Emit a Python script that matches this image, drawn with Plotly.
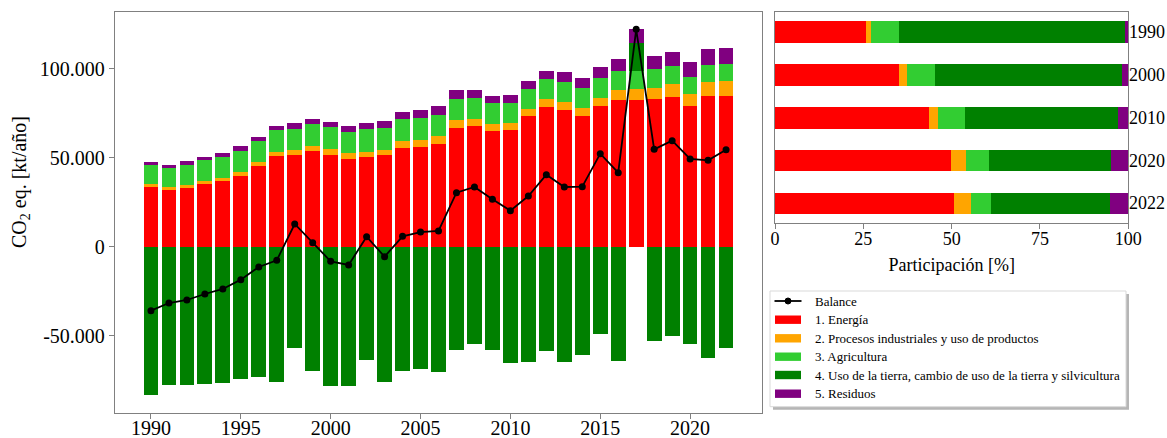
import plotly.graph_objects as go

# Emisiones y absorciones por sector [kt CO2 eq./año]
years = list(range(1990, 2023))
energia = [33560, 32060, 33000, 35250, 36750, 39750, 45375, 51190, 51750, 53810,
           51750, 49500, 50440, 51375, 55690, 56060, 57560, 66560, 67875, 65060,
           65625, 73690, 78375, 76690, 73310, 79125, 82500, 82690, 83250, 84190,
           78940, 84940, 84940]
ippu = [1690, 1500, 1875, 1875, 2060, 2440, 2060, 2060, 2440, 2810,
        3000, 3000, 2810, 3190, 3560, 4130, 4500, 4690, 3940, 3750,
        3750, 3750, 4690, 4875, 4875, 4690, 5625, 5810, 6190, 7125,
        6750, 7500, 8060]
agricultura = [10500, 10880, 11250, 11440, 11810, 11810, 12000, 12190, 12190, 12560,
               12375, 12190, 12750, 12375, 12560, 12190, 12000, 11810, 11810, 11810,
               11440, 11060, 11060, 11060, 10870, 11060, 10500, 10500, 10310, 10310,
               9940, 9750, 9560]
uso_tierra = [-83440, -77625, -78000, -77250, -76500, -74625, -73125, -75940, -56810, -69750,
              -78190, -78375, -63560, -76310, -70125, -68625, -70690, -58125, -54940, -58310,
              -65625, -65060, -58875, -65060, -61125, -49310, -64125, 15750, -53250, -50250,
              -54940, -62625, -57000]
residuos = [1690, 1690, 1875, 2060, 2060, 2440, 2440, 2620, 3000, 2620,
            3000, 3190, 3375, 3560, 3940, 4310, 4875, 5250, 4690, 4125,
            4690, 4875, 4875, 5810, 5625, 6190, 6940, 7500, 7690, 7875,
            8440, 9000, 9000]
balance = [-36000, -31690, -30000, -26625, -23810, -18560, -11440, -7690, 12750, 2200,
           -8250, -10310, 5600, -5625, 5800, 8200, 8810, 30375, 33560, 26625,
           20250, 28500, 40500, 33560, 33750, 52310, 41625, 122250, 54750, 59625,
           49310, 48560, 54560]

# Participación porcentual por sector
part_years = ["1990", "2000", "2010", "2020", "2022"]
pct_energia = [25.7, 35.1, 43.7, 49.8, 50.7]
pct_ippu = [1.4, 2.2, 2.4, 4.4, 4.7]
pct_agricultura = [8.1, 8.1, 7.7, 6.3, 5.7]
pct_uso_tierra = [63.8, 52.7, 43.4, 34.5, 33.7]
pct_residuos = [1.0, 1.9, 2.8, 5.0, 5.2]

y_tickvals = [-50000, 0, 50000, 100000]
y_ticktext = ["-50.000", "0", "50.000", "100.000"]

sector_names = [
    "1. Energía",
    "2. Procesos industriales y uso de productos",
    "3. Agricultura",
    "4. Uso de la tierra, cambio de uso de la tierra y silvicultura",
    "5. Residuos",
]
sector_colors = ["#ff0000", "#ffa500", "#32cd32", "#008000", "#800080"]

W, H = 1167, 438
FONT = "Liberation Serif"


def px_x(x):
    return x / W


def px_y(y):
    return 1 - y / H


fig = go.Figure()

# Barras apiladas por sector (panel izquierdo)
for name, color, vals in zip(sector_names, sector_colors,
                             [energia, ippu, agricultura, uso_tierra, residuos]):
    fig.add_trace(go.Bar(x=years, y=vals, name=name, marker_color=color,
                         marker_line_width=0, width=0.82,
                         xaxis="x", yaxis="y", showlegend=False))

fig.add_trace(go.Scatter(x=years, y=balance, name="Balance", mode="lines+markers",
                         line=dict(color="black", width=1.8),
                         marker=dict(color="black", size=7),
                         xaxis="x", yaxis="y", showlegend=False))

# Participación porcentual (panel derecho)
for name, color, vals in zip(sector_names, sector_colors,
                             [pct_energia, pct_ippu, pct_agricultura, pct_uso_tierra, pct_residuos]):
    fig.add_trace(go.Bar(y=part_years, x=vals, orientation="h", name=name,
                         marker_color=color, marker_line_width=0, width=0.5,
                         xaxis="x2", yaxis="y2", showlegend=False))

axis_common = dict(showline=True, mirror=True, linecolor="#808080", linewidth=1.3,
                   ticks="outside", tickcolor="#808080", ticklen=5, tickwidth=1.2,
                   showgrid=False, zeroline=False, automargin=False)

fig.update_layout(
    width=W, height=H, autosize=False,
    margin=dict(l=0, r=0, t=0, b=0, pad=0),
    paper_bgcolor="white", plot_bgcolor="white",
    barmode="relative", bargap=0,
    font=dict(family=FONT, color="black"),
    xaxis=dict(domain=[px_x(115), px_x(762)], range=[1988, 2024],
               tick0=1990, dtick=5, anchor="y", ticklabelstandoff=-8,
               tickfont=dict(size=20, family=FONT, color="black"), **axis_common),
    yaxis=dict(domain=[px_y(412.7), px_y(12)], range=[-93400, 132000],
               tickvals=y_tickvals, ticktext=y_ticktext, anchor="x",
               tickfont=dict(size=20, family=FONT, color="black"), **axis_common),
    xaxis2=dict(domain=[px_x(775), px_x(1128.3)], range=[0, 100],
                tickvals=[0, 25, 50, 75, 100], anchor="y2", ticklabelstandoff=-6,
                tickfont=dict(size=18, family=FONT, color="black"),
                title=dict(text="Participación [%]", standoff=10,
                           font=dict(size=18, family=FONT, color="black")),
                **axis_common),
    yaxis2=dict(domain=[px_y(223.3), px_y(11.7)], type="category",
                range=[4.47, -0.47], side="right", anchor="x2",
                showline=True, mirror=True, linecolor="#808080", linewidth=1.3,
                ticks="", showgrid=False, zeroline=False, ticklabelstandoff=-4,
                automargin=False,
                tickfont=dict(size=18, family=FONT, color="black")),
)

# Etiqueta del eje vertical
fig.add_annotation(text="CO<sub>2</sub> eq. [kt/año]", xref="paper", yref="paper",
                   x=px_x(20), y=px_y(182), textangle=-90, showarrow=False,
                   xanchor="center", yanchor="middle",
                   font=dict(size=20, family=FONT, color="black"))

# Leyenda con sombra
shapes = []
lx0, lx1, ly0, ly1 = 770, 1126, 291, 406.7
shapes.append(dict(type="rect", xref="paper", yref="paper",
                   x0=px_x(lx0 + 3), x1=px_x(lx1 + 3), y0=px_y(ly1 + 3), y1=px_y(ly0 + 3),
                   fillcolor="#b5b5b5", line=dict(width=0), layer="above"))
shapes.append(dict(type="rect", xref="paper", yref="paper",
                   x0=px_x(lx0), x1=px_x(lx1), y0=px_y(ly1), y1=px_y(ly0),
                   fillcolor="white", line=dict(color="#d9d9d9", width=1), layer="above"))

entry_y = [301, 319.7, 338.3, 356.7, 375, 393.7]
# Balance: línea con marcador
shapes.append(dict(type="line", xref="paper", yref="paper",
                   x0=px_x(774.5), x1=px_x(801.5), y0=px_y(entry_y[0]), y1=px_y(entry_y[0]),
                   line=dict(color="black", width=1.8), layer="above"))
shapes.append(dict(type="circle", xref="paper", yref="paper",
                   x0=px_x(785), x1=px_x(791), y0=px_y(entry_y[0] + 3), y1=px_y(entry_y[0] - 3),
                   fillcolor="black", line=dict(color="black", width=1), layer="above"))
fig.add_annotation(text="Balance", xref="paper", yref="paper",
                   x=px_x(812.5), y=px_y(entry_y[0]), xanchor="left", yanchor="middle",
                   showarrow=False, font=dict(size=13, family=FONT, color="black"))

for ey, name, color in zip(entry_y[1:], sector_names, sector_colors):
    shapes.append(dict(type="rect", xref="paper", yref="paper",
                       x0=px_x(775), x1=px_x(801), y0=px_y(ey + 4.2), y1=px_y(ey - 4.2),
                       fillcolor=color, line=dict(width=0), layer="above"))
    fig.add_annotation(text=name, xref="paper", yref="paper",
                       x=px_x(812.5), y=px_y(ey), xanchor="left", yanchor="middle",
                       showarrow=False, font=dict(size=13, family=FONT, color="black"))

fig.update_layout(shapes=shapes)

fig.write_html("out.html")
